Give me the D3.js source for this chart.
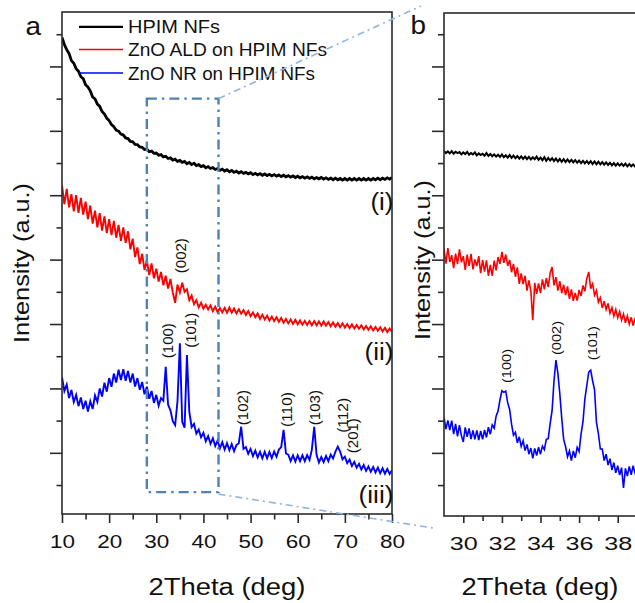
<!DOCTYPE html>
<html><head><meta charset="utf-8">
<script src="https://cdn.jsdelivr.net/npm/d3@7"></script>
<style>
body{margin:0;background:#fff}
svg{display:block;font-family:"Liberation Sans",Arial,sans-serif}
</style>
</head><body>
<svg id="c" width="635" height="603"></svg>
<script>
// ---------------- DATA ----------------
const seriesNames = ["HPIM NFs", "ZnO ALD on HPIM NFs", "ZnO NR on HPIM NFs"];
const seriesColors = ["#000000", "#ff0000", "#0000ff"];

// panel a: 2theta sampling grid 10..80 deg, step 0.5
const thetaA = d3.range(10, 80.001, 0.5);
const hpimA = [
1390,1368,1352,1340,1318,1310,1293,1285,1268,1262,
1243,1236,1224,1205,1199,1183,1176,1160,1152,1139,
1132,1119,1113,1102,1099,1090,1087,1078,1076,1067,
1066,1058,1057,1050,1049,1042,1043,1035,1037,1030,
1031,1024,1026,1019,1021,1014,1016,1009,1012,1005,
1008,1002,1005,998,1002,995,999,992,995,989,
992,985,989,983,986,980,983,977,981,975,
979,973,977,971,975,969,973,968,971,966,
970,964,968,963,967,962,966,961,965,960,
964,959,963,958,962,957,961,956,960,955,
959,954,958,953,957,952,956,951,955,951,
955,950,954,949,953,948,953,948,952,947,
952,947,952,947,952,947,952,947,952,947,
952,947,952,948,953,948,953,949,954,950,
955];
const aldA = [
931,872,920,862,903,850,900,845,892,840,
880,826,868,812,852,800,844,790,834,782,
826,776,820,768,808,758,800,752,788,732,
765,708,738,686,718,668,698,652,688,642,
672,632,662,620,650,610,640,598,566,622,
598,628,600,608,574,588,562,574,552,566,
548,560,545,558,540,554,537,550,536,550,
535,551,535,548,533,546,532,543,528,540,
524,536,521,533,516,529,514,526,511,523,
509,521,507,519,504,516,502,514,500,513,
499,511,498,510,497,509,496,509,496,508,
495,508,495,506,493,505,492,503,490,502,
489,500,487,499,486,497,485,496,483,494,
482,493,480,491,479,490,477,488,475,486,
476];
const nrA = [
335,292,312,270,295,258,280,245,272,236,
262,228,260,236,278,258,300,275,318,290,
332,305,346,318,358,326,360,324,354,318,
346,306,332,296,320,282,305,268,292,255,
280,246,270,262,367,250,232,198,186,260,
440,196,178,404,228,180,190,160,172,148,
162,136,152,128,145,121,138,114,133,110,
130,108,127,105,124,130,181,112,118,97,
112,90,107,86,103,83,103,83,103,84,
104,88,110,118,171,98,94,74,92,73,
92,74,92,74,93,78,110,181,94,70,
87,71,90,74,94,82,104,119,104,80,
88,68,79,59,72,54,66,48,62,44,
58,41,56,39,54,37,52,35,50,34,
46];

// panel b: 2theta sampling grid 29..39 deg, step 0.1
const thetaB = d3.range(0, 101).map(i => +(29 + i * 0.1).toFixed(1));
const hpimB = [
1038,1031,1036,1030,1037,1029,1035,1031,1034,1027,
1033,1028,1035,1026,1031,1027,1033,1024,1030,1025,
1029,1023,1031,1022,1028,1021,1027,1020,1026,1019,
1027,1018,1024,1017,1025,1016,1023,1015,1022,1014,
1021,1013,1020,1012,1019,1011,1018,1012,1020,1010,
1017,1009,1018,1007,1016,1008,1015,1006,1014,1005,
1013,1004,1012,1003,1011,1003,1010,1002,1009,1001,
1008,1000,1007,999,1006,998,1006,997,1005,996,
1004,996,1003,995,1002,994,1001,993,1000,992,
999,992,998,991,998,990,997,990,996,989,
995];
const aldB = [
734,688,736,693,714,674,719,686,732,692,
711,668,716,681,718,670,701,680,711,658,
699,663,698,650,684,650,697,667,708,687,
724,690,716,681,699,661,687,647,676,625,
657,624,650,604,636,602,512,628,594,626,
596,639,608,643,615,659,677,620,646,604,
633,596,622,590,617,578,608,572,597,573,
606,587,620,602,642,662,610,625,590,604,
568,582,550,571,545,564,534,551,525,545,
520,539,512,531,504,525,500,521,495,516,
498];
const nrB = [
210,174,201,171,200,158,190,151,186,154,
134,179,150,176,143,170,142,170,140,168,
142,171,148,180,158,187,177,214,230,265,
293,288,292,256,235,189,155,164,131,150,
120,138,107,126,96,115,83,114,92,118,
96,121,110,142,144,191,231,324,388,348,
284,208,142,119,88,106,76,106,85,117,
104,158,196,268,310,351,357,324,296,194,
160,112,112,76,96,62,82,47,70,38,
60,31,54,-9,52,28,58,32,60,37,
60];

// ticks
const xTicksA = [10,20,30,40,50,60,70,80];
const xMinorA = [15,25,35,45,55,65,75];
const xTicksB = [30,32,34,36,38];
const xMinorB = [31,33,35,37,39];
const yMajor = [100,300,500,700,900,1100,1300];
const yMinor = [0,200,400,600,800,1000,1200,1400];

// annotations
const peakLabelsA = ["(100)","(101)","(002)","(102)","(110)","(103)","(112)","(201)"];
const peakXA = [32.49,37.51,35.39,48.40,57.73,63.67,69.61,71.73];
const peakYA = [394,426,658,186,180,186,162,99];
const peakLabelsB = ["(100)","(002)","(101)"];
const peakXB = [32.25,34.84,36.74];
const peakYB = [317,404,388];
const curveLabels = ["(i)","(ii)","(iii)"];
const curveLabelY = [854,388,-56];
const zoomBoxX = [28, 43.2];
const zoomBoxY = [-22, 1200];

// ---------------- DRAW ----------------
const svg = d3.select("#c");
const axisColor = "#2b2b2b";
const textColor = "#111";

const xa = d3.scaleLinear().domain([10, 80]).range([62, 392]);
const ya = d3.scaleLinear().domain([-90, 1469]).range([514, 12]);
const xb = d3.scaleLinear().domain([29, 43]).range([444, 714.2]);
const yb = d3.scaleLinear().domain([-96, 1466]).range([516, 13]);

const defs = svg.append("defs");
defs.append("clipPath").attr("id", "clipA").append("rect")
  .attr("x", xa(10)).attr("y", ya.range()[1]).attr("width", xa(80) - xa(10)).attr("height", ya.range()[0] - ya.range()[1]);
defs.append("clipPath").attr("id", "clipB").append("rect")
  .attr("x", xb(29)).attr("y", yb.range()[1]).attr("width", xb(43) - xb(29)).attr("height", yb.range()[0] - yb.range()[1]);

function stretchText(sel, len) {
  return sel.attr("textLength", len).attr("lengthAdjust", "spacingAndGlyphs");
}
function vText(x, y, txt, size, len) {
  stretchText(svg.append("text")
    .attr("transform", `translate(${x},${y}) rotate(-90)`)
    .attr("font-size", size).attr("fill", textColor).text(txt), len);
}

// curves
function drawCurves(x, y, theta, seriesList, clipId, widths) {
  const g = svg.append("g").attr("clip-path", `url(#${clipId})`);
  seriesList.forEach((vals, i) => {
    const line = d3.line().x((d, j) => x(theta[j])).y(d => y(d));
    g.append("path").datum(vals).attr("d", line)
      .attr("fill", "none").attr("stroke", seriesColors[i])
      .attr("stroke-width", widths[i]).attr("stroke-linejoin", "miter");
  });
}
drawCurves(xa, ya, thetaA, [hpimA, aldA, nrA], "clipA", [2.8, 1.9, 1.9]);
drawCurves(xb, yb, thetaB, [hpimB, aldB, nrB], "clipB", [2.0, 1.6, 1.6]);

// frames
function frame(x, y) {
  svg.append("rect")
    .attr("x", x.range()[0]).attr("y", y.range()[1])
    .attr("width", x.range()[1] - x.range()[0]).attr("height", y.range()[0] - y.range()[1])
    .attr("fill", "none").attr("stroke", axisColor).attr("stroke-width", 1.6);
}
frame(xa, ya);
frame(xb, yb);

// axes
function ticks(axisFn, scale, vals, size, transform) {
  const g = svg.append("g").attr("transform", transform)
    .call(axisFn(scale).tickValues(vals).tickSize(size).tickFormat(""));
  g.select(".domain").remove();
  g.selectAll("line").attr("stroke", axisColor).attr("stroke-width", 1.6);
  return g;
}
function labelledX(scale, vals, size, yPos, len) {
  const g = svg.append("g").attr("transform", `translate(0,${yPos})`)
    .call(d3.axisBottom(scale).tickValues(vals).tickSize(size).tickFormat(d3.format("d")));
  g.select(".domain").remove();
  g.selectAll("line").attr("stroke", axisColor).attr("stroke-width", 1.6);
  g.selectAll("text").attr("y", 34).attr("dy", 0).attr("font-size", 18.5)
    .attr("fill", textColor).attr("font-family", "Liberation Sans, Arial, sans-serif")
    .attr("textLength", len).attr("lengthAdjust", "spacingAndGlyphs");
}
// panel a
labelledX(xa, xTicksA, 9, ya.range()[0], 25);
ticks(d3.axisBottom, xa, xMinorA, 5.5, `translate(0,${ya.range()[0]})`);
ticks(d3.axisLeft, ya, yMajor, 12, `translate(${xa.range()[0]},0)`);
ticks(d3.axisLeft, ya, yMinor, 5.5, `translate(${xa.range()[0]},0)`);
// panel b
labelledX(xb, xTicksB, 7, yb.range()[0], 28);
ticks(d3.axisBottom, xb, xMinorB, 5, `translate(0,${yb.range()[0]})`);
ticks(d3.axisLeft, yb, yMajor, 12, `translate(${xb.range()[0]},0)`);
ticks(d3.axisLeft, yb, yMinor, 6, `translate(${xb.range()[0]},0)`);

// axis titles
[[xa, ya], [xb, yb]].forEach(([x, y]) => {
  stretchText(svg.append("text")
    .attr("x", x === xa ? (x.range()[0] + x.range()[1]) / 2 : x(29) + 96)
    .attr("y", 595).attr("text-anchor", "middle")
    .attr("font-size", 23).attr("fill", textColor).text("2Theta (deg)"), 157);
});
vText(xa.range()[0] - 33, 343, "Intensity (a.u.)", 22, 160);
vText(xb.range()[0] - 14, 340, "Intensity (a.u.)", 22, 160);

// panel letters
stretchText(svg.append("text").attr("x", 25.5).attr("y", 35).attr("font-size", 25)
  .attr("fill", textColor).text("a"), 15.5);
stretchText(svg.append("text").attr("x", 410.5).attr("y", 33.5).attr("font-size", 25)
  .attr("fill", textColor).text("b"), 15.5);

// peak labels
peakLabelsA.forEach((t, i) => vText(xa(peakXA[i]) + 4.5, ya(peakYA[i]), t, 14, 35));
peakLabelsB.forEach((t, i) => vText(xb(peakXB[i]) + 4, yb(peakYB[i]), t, 12.5, 34));

// curve labels (i) (ii) (iii)
const curveLabelLen = [23, 29, 35];
curveLabels.forEach((t, i) => {
  stretchText(svg.append("text").attr("x", xa(80) + 1.5).attr("y", ya(curveLabelY[i]))
    .attr("text-anchor", "end").attr("font-size", 23).attr("fill", textColor).text(t), curveLabelLen[i]);
});

// legend
const legendBase = [33.3, 56, 79.5];
const legendLen = [92, 199, 187];
const legendW = [2.2, 1.5, 1.5];
seriesNames.forEach((name, i) => {
  svg.append("line").attr("x1", xa(10) + 17).attr("x2", xa(10) + 61)
    .attr("y1", legendBase[i] - 6.5).attr("y2", legendBase[i] - 6.5)
    .attr("stroke", seriesColors[i]).attr("stroke-width", legendW[i]);
  stretchText(svg.append("text").attr("x", xa(10) + 66).attr("y", legendBase[i])
    .attr("font-size", 17.5).attr("fill", textColor).text(name), legendLen[i]);
});

// zoom box (dash-dot) and connectors
const bx0 = xa(zoomBoxX[0]), bx1 = xa(zoomBoxX[1]);
const by0 = ya(zoomBoxY[1]), by1 = ya(zoomBoxY[0]);
svg.append("rect").attr("x", bx0).attr("y", by0).attr("width", bx1 - bx0).attr("height", by1 - by0)
  .attr("fill", "none").attr("stroke", "#4f81b4").attr("stroke-width", 2.4)
  .attr("stroke-dasharray", "10,5,2.5,5");
svg.append("line").attr("x1", bx1).attr("y1", by0).attr("x2", xb(29) - 23).attr("y2", 6)
  .attr("stroke", "#8db6e3").attr("stroke-width", 1.6).attr("stroke-dasharray", "7,4,2,4");
svg.append("line").attr("x1", bx1).attr("y1", by1 + 2).attr("x2", xb(29) - 11).attr("y2", yb.range()[0] + 12)
  .attr("stroke", "#8db6e3").attr("stroke-width", 1.6).attr("stroke-dasharray", "7,4,2,4");
</script>
</body></html>
